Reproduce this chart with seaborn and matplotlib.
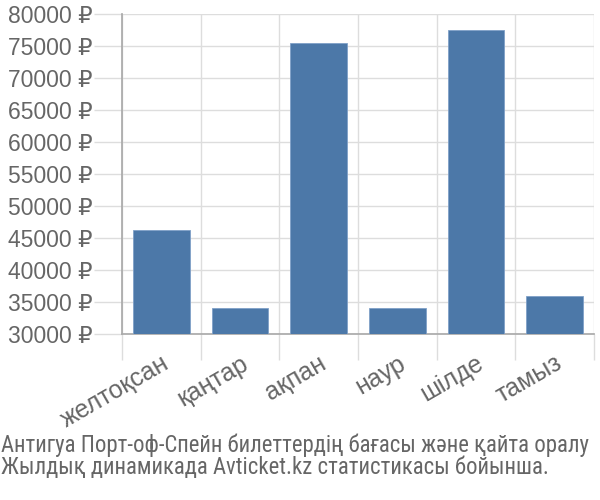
import matplotlib
matplotlib.use("Agg")
import matplotlib.pyplot as plt
import seaborn as sns
import pandas as pd
from matplotlib.ticker import FuncFormatter, FixedLocator

months = ["желтоқсан", "қаңтар", "ақпан", "наур", "шілде", "тамыз"]
prices = [46350, 34100, 75550, 34100, 77550, 35950]
yticks = list(range(30000, 80001, 5000))
caption = ["Антигуа Порт-оф-Спейн билеттердің бағасы және қайта оралу",
           "Жылдық динамикада Avticket.kz статистикасы бойынша."]

sns.set_theme(style="white")
plt.rcParams['font.family'] = ['Liberation Sans', 'DejaVu Sans']

df = pd.DataFrame({"month": months, "price": prices})

fig = plt.figure(figsize=(6, 5), dpi=100)
ax = fig.add_axes([122/600, 1-334.3/500, (594-122)/600, (334.3-14)/500])

sns.barplot(data=df, x="month", y="price", color="#4c78a8", saturation=1,
            width=0.72, edgecolor="#7fa0c8", linewidth=0.6, ax=ax, zorder=3)

ax.set_ylim(30000, 80000)
ax.set_xlim(-0.5, len(months) - 0.5)
ax.set_yticks(yticks)
ax.yaxis.set_major_formatter(FuncFormatter(lambda v, p: f"{int(v)} ₽"))
ax.set_xlabel("")
ax.set_ylabel("")

bounds = [i - 0.5 for i in range(len(months) + 1)]
ax.xaxis.set_minor_locator(FixedLocator(bounds))
ax.tick_params(axis="x", which="minor", length=19, width=1, color="#dddddd", bottom=True)
ax.tick_params(axis="x", which="major", length=0, pad=12, labelsize=18, labelcolor="#666666")
ax.tick_params(axis="y", which="major", length=20, width=1, color="#dddddd", left=True,
               pad=1, labelsize=16.5, labelcolor="#666666")
for lbl in ax.get_xticklabels():
    lbl.set_rotation(30)
    lbl.set_ha("right")
    lbl.set_va("top")
    lbl.set_rotation_mode("anchor")

ax.grid(False)
ax.yaxis.grid(True, color="#dddddd", linewidth=1, zorder=0)
ax.xaxis.grid(True, which="minor", color="#dddddd", linewidth=1, zorder=0)
ax.set_axisbelow(True)

for s in ["top", "right"]:
    ax.spines[s].set_visible(False)
ax.spines["left"].set_color("#aaaaaa")
ax.spines["bottom"].set_color("#aaaaaa")

cap_family = ['Roboto Condensed', 'DejaVu Sans']
fig.text(1/600, 1-445/500, caption[0], ha="left", va="center", fontsize=16.4,
         color="#666666", family=cap_family)
fig.text(1/600, 1-468/500, caption[1], ha="left", va="center", fontsize=16.4,
         color="#666666", family=cap_family)

fig.savefig("out.png", dpi=100)
